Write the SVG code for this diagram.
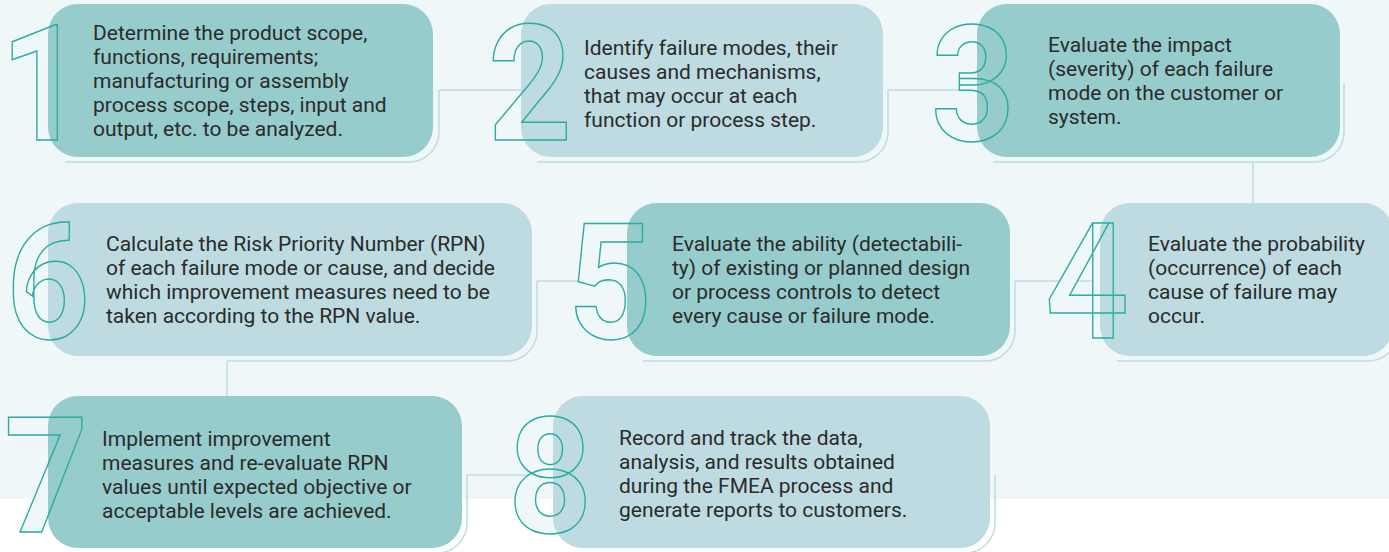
<svg xmlns="http://www.w3.org/2000/svg" width="1389" height="552" viewBox="0 0 1389 552">
<defs>
<linearGradient id="bgfill" gradientUnits="userSpaceOnUse" x1="0" y1="0" x2="0" y2="552">
<stop offset="0.904" stop-color="#eff7f9"/>
<stop offset="0.904" stop-color="#ffffff"/>
</linearGradient>
<style>
.teal{fill:#96cccc}
.light{fill:#bddbe0}
.shadow{fill:none;stroke:#bfdce3;stroke-width:1.5}
.conn{fill:none;stroke:#bfdce3;stroke-width:1.5}
.numf{font-family:Roboto,'Liberation Sans',sans-serif;font-weight:700;font-size:162px;fill:url(#bgfill);stroke:none;text-anchor:middle}
.numo{font-family:Roboto,'Liberation Sans',sans-serif;font-weight:700;font-size:162px;fill:none;stroke:#2aaca2;stroke-width:1.5;text-anchor:middle}
.txt{font-family:Roboto,'Liberation Sans',sans-serif;font-size:21px;fill:#2b2b2b}
</style>
</defs>
<rect x="0" y="0" width="1389" height="552" fill="#ffffff"/>
<rect x="0" y="0" width="1389" height="499" fill="#eff7f9"/>

<g id="connectors">
<path class="conn" d="M439,90 H521"/>
<path class="conn" d="M888,90 H977"/>
<path class="conn" d="M1253,162 V203"/>
<path class="conn" d="M1015,281 H1100"/>
<path class="conn" d="M537,281 H627"/>
<path class="conn" d="M227,361 V396"/>
<path class="conn" d="M467,475 H553"/>
</g>

<g id="step1">
<path class="shadow" d="M65,162 H409 A30,30 0 0 0 439,132 V90"/>
<text class="numf" transform="translate(42,140) scale(0.9,1)">1</text>
<rect class="teal" x="48" y="4" width="385" height="153" rx="30"/>
<text class="numo" transform="translate(42,140) scale(0.9,1)">1</text>
<text class="txt" x="93" y="40">Determine the product scope,</text>
<text class="txt" x="93" y="64">functions, requirements;</text>
<text class="txt" x="93" y="88">manufacturing or assembly</text>
<text class="txt" x="93" y="112">process scope, steps, input and</text>
<text class="txt" x="93" y="136">output, etc. to be analyzed.</text>
</g>

<g id="step2">
<path class="shadow" d="M537,162 H858 A30,30 0 0 0 888,132 V90"/>
<text class="numf" transform="translate(530,140) scale(0.9,1)">2</text>
<rect class="light" x="521" y="4" width="362" height="153" rx="30"/>
<text class="numo" transform="translate(530,140) scale(0.9,1)">2</text>
<text class="txt" x="584" y="55">Identify failure modes, their</text>
<text class="txt" x="584" y="79">causes and mechanisms,</text>
<text class="txt" x="584" y="103">that may occur at each</text>
<text class="txt" x="584" y="127">function or process step.</text>
</g>

<g id="step3">
<path class="shadow" d="M993,162 H1314 A30,30 0 0 0 1344,132 V83"/>
<text class="numf" transform="translate(973,140) scale(0.9,1)">3</text>
<rect class="teal" x="977" y="4" width="363" height="153" rx="30"/>
<text class="numo" transform="translate(973,140) scale(0.9,1)">3</text>
<text class="txt" x="1048" y="52">Evaluate the impact</text>
<text class="txt" x="1048" y="76">(severity) of each failure</text>
<text class="txt" x="1048" y="100">mode on the customer or</text>
<text class="txt" x="1048" y="124">system.</text>
</g>

<g id="step4">
<path class="shadow" d="M1117,361 H1368 A30,30 0 0 0 1398,331 V281"/>
<text class="numf" transform="translate(1087,338) scale(0.9,1)">4</text>
<rect class="light" x="1100" y="203" width="293" height="153" rx="30"/>
<text class="numo" transform="translate(1087,338) scale(0.9,1)">4</text>
<text class="txt" x="1148" y="251">Evaluate the probability</text>
<text class="txt" x="1148" y="275">(occurrence) of each</text>
<text class="txt" x="1148" y="299">cause of failure may</text>
<text class="txt" x="1148" y="323">occur.</text>
</g>

<g id="step5">
<path class="shadow" d="M643,361 H985 A30,30 0 0 0 1015,331 V281"/>
<text class="numf" transform="translate(610,338) scale(0.9,1)">5</text>
<rect class="teal" x="627" y="203" width="383" height="153" rx="30"/>
<text class="numo" transform="translate(610,338) scale(0.9,1)">5</text>
<text class="txt" x="672" y="251">Evaluate the ability (detectabili-</text>
<text class="txt" x="672" y="275">ty) of existing or planned design</text>
<text class="txt" x="672" y="299">or process controls to detect</text>
<text class="txt" x="672" y="323">every cause or failure mode.</text>
</g>

<g id="step6">
<path class="shadow" d="M227,361 H507 A30,30 0 0 0 537,331 V281"/>
<text class="numf" transform="translate(48,338) scale(0.9,1)">6</text>
<rect class="light" x="48" y="203" width="484" height="153" rx="30"/>
<text class="numo" transform="translate(48,338) scale(0.9,1)">6</text>
<text class="txt" x="106" y="251">Calculate the Risk Priority Number (RPN)</text>
<text class="txt" x="106" y="275">of each failure mode or cause, and decide</text>
<text class="txt" x="106" y="299">which improvement measures need to be</text>
<text class="txt" x="106" y="323">taken according to the RPN value.</text>
</g>

<g id="step7">
<path class="shadow" d="M65,553 H437 A30,30 0 0 0 467,523 V475"/>
<text class="numf" transform="translate(46,532) scale(0.9,1)">7</text>
<rect class="teal" x="48" y="396" width="414" height="152" rx="30"/>
<text class="numo" transform="translate(46,532) scale(0.9,1)">7</text>
<text class="txt" x="102" y="446">Implement improvement</text>
<text class="txt" x="102" y="470">measures and re-evaluate RPN</text>
<text class="txt" x="102" y="494">values until expected objective or</text>
<text class="txt" x="102" y="518">acceptable levels are achieved.</text>
</g>

<g id="step8">
<path class="shadow" d="M569,553 H965 A30,30 0 0 0 995,523 V475"/>
<text class="numf" transform="translate(550,532) scale(0.9,1)">8</text>
<rect class="light" x="553" y="396" width="437" height="152" rx="30"/>
<text class="numo" transform="translate(550,532) scale(0.9,1)">8</text>
<text class="txt" x="619" y="445">Record and track the data,</text>
<text class="txt" x="619" y="469">analysis, and results obtained</text>
<text class="txt" x="619" y="493">during the FMEA process and</text>
<text class="txt" x="619" y="517">generate reports to customers.</text>
</g>
</svg>
